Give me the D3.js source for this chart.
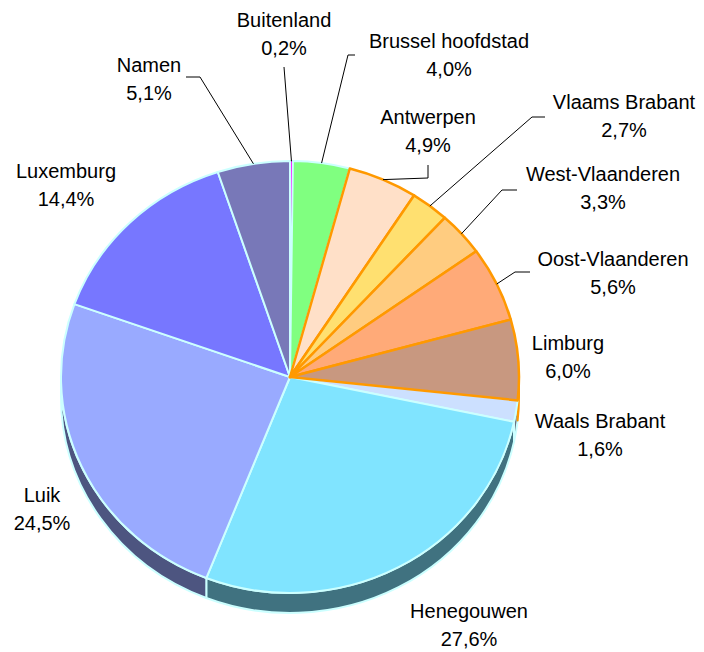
<!DOCTYPE html>
<html>
<head>
<meta charset="utf-8">
<script src="https://cdn.jsdelivr.net/npm/d3@7"></script>
<style>
  body { margin: 0; background: #fff; }
  text { font-family: Arial, "Liberation Sans", sans-serif; font-size: 20px; fill: #000; }
</style>
</head>
<body>
<div id="chart"></div>
<script>
// Data (clockwise from 12 o'clock)
var regions = ["Buitenland", "Brussel hoofdstad", "Antwerpen", "Vlaams Brabant", "West-Vlaanderen",
    "Oost-Vlaanderen", "Limburg", "Waals Brabant", "Henegouwen", "Luik", "Luxemburg", "Namen"];
var shares = [0.2, 4.0, 4.9, 2.7, 3.3, 5.6, 6.0, 1.6, 27.6, 24.5, 14.4, 5.1];
var fills = ["#ff00ff", "#80ff80", "#ffe0c8", "#ffe070", "#ffcc80", "#ffaa78",
    "#c89880", "#cce0ff", "#80e4ff", "#99aaff", "#7777ff", "#7878b8"];
var flemish = ["Antwerpen", "Vlaams Brabant", "West-Vlaanderen", "Oost-Vlaanderen", "Limburg"];

// Layout of the labels: centre x, baseline of first line, and leader elbow points
var labelPos = {
    "Buitenland": {x: 284, y: 27, leader: [[284, 67]]},
    "Brussel hoofdstad": {x: 449, y: 48, leader: [[348, 55], [355, 55]]},
    "Antwerpen": {x: 428, y: 124, leader: [[428, 178], [428, 165]]},
    "Vlaams Brabant": {x: 624, y: 109, leader: [[532, 117], [545, 117]]},
    "West-Vlaanderen": {x: 603, y: 181, leader: [[502, 190], [517, 190]]},
    "Oost-Vlaanderen": {x: 613, y: 266, leader: [[515, 272], [530, 272]]},
    "Limburg": {x: 568, y: 350},
    "Waals Brabant": {x: 600, y: 428},
    "Henegouwen": {x: 469, y: 618},
    "Luik": {x: 42, y: 502},
    "Luxemburg": {x: 66, y: 178},
    "Namen": {x: 149, y: 72, leader: [[200, 77], [186, 77]]}
};

var width = 704, height = 652;
var cx = 290, cy = 377, rx = 229, ry = 216, depth = 20;

var nl = d3.formatLocale({decimal: ",", thousands: ".", grouping: [3], currency: ["", "€"]});
var fmt = nl.format(".1f");

var svg = d3.select("#chart").append("svg")
    .attr("width", width)
    .attr("height", height);

var pie = d3.pie().sort(null).value(function (d) { return d.value; });
var data = regions.map(function (r, i) {
    return {name: r, value: shares[i], fill: fills[i], flemish: flemish.indexOf(r) >= 0};
});
var arcs = pie(data);

// point on the ellipse for an angle measured clockwise from the top
function pt(a, dy) {
    return [cx + rx * Math.sin(a), cy - ry * Math.cos(a) + (dy || 0)];
}

function topPath(d) {
    var p0 = pt(d.startAngle), p1 = pt(d.endAngle);
    var large = (d.endAngle - d.startAngle) > Math.PI ? 1 : 0;
    return "M" + cx + "," + cy + "L" + p0 + "A" + rx + "," + ry + " 0 " + large + " 1 " + p1 + "Z";
}

function sidePath(d) {
    var a0 = Math.max(d.startAngle, Math.PI / 2), a1 = Math.min(d.endAngle, 3 * Math.PI / 2);
    if (a1 <= a0) return null;
    var p0 = pt(a0), p1 = pt(a1), q0 = pt(a0, depth), q1 = pt(a1, depth);
    return "M" + p0 + "A" + rx + "," + ry + " 0 0 1 " + p1 + "L" + q1 +
        "A" + rx + "," + ry + " 0 0 0 " + q0 + "Z";
}

function strokeOf(d) {
    if (d.data.name === "Buitenland") return "#222";
    return d.data.flemish ? "#ff9900" : "#ccffff";
}

// draw the non-Flemish slices first so the orange outlines sit on top
var ordered = arcs.filter(function (d) { return !d.data.flemish; })
    .concat(arcs.filter(function (d) { return d.data.flemish; }));

// side walls
svg.append("g").selectAll("path")
    .data(ordered.filter(function (d) { return sidePath(d); }))
    .enter().append("path")
    .attr("d", sidePath)
    .attr("fill", function (d) {
        var c = d3.rgb(d.data.fill);
        return d3.rgb(c.r * 0.5, c.g * 0.5, c.b * 0.5);
    })
    .attr("stroke", strokeOf)
    .attr("stroke-width", 2)
    .attr("stroke-linejoin", "round");

// top faces
svg.append("g").selectAll("path")
    .data(ordered)
    .enter().append("path")
    .attr("d", topPath)
    .attr("fill", function (d) { return d.data.fill; })
    .attr("stroke", strokeOf)
    .attr("stroke-width", function (d) {
        if (d.data.name === "Buitenland") return 0.8;
        return d.data.flemish ? 2.5 : 2;
    })
    .attr("stroke-linejoin", "round");

// leader lines from the rim at the slice's middle angle
var line = d3.line();
svg.append("g").selectAll("path")
    .data(arcs.filter(function (d) { return labelPos[d.data.name].leader; }))
    .enter().append("path")
    .attr("d", function (d) {
        var mid = (d.startAngle + d.endAngle) / 2;
        return line([pt(mid)].concat(labelPos[d.data.name].leader));
    })
    .attr("fill", "none")
    .attr("stroke", "#000")
    .attr("stroke-width", 1);

// labels
var labels = svg.append("g").selectAll("text")
    .data(arcs)
    .enter().append("text")
    .attr("text-anchor", "middle")
    .attr("x", function (d) { return labelPos[d.data.name].x; })
    .attr("y", function (d) { return labelPos[d.data.name].y; });
labels.append("tspan")
    .attr("x", function (d) { return labelPos[d.data.name].x; })
    .text(function (d) { return d.data.name; });
labels.append("tspan")
    .attr("x", function (d) { return labelPos[d.data.name].x; })
    .attr("dy", 28)
    .text(function (d) { return fmt(d.data.value) + "%"; });
</script>
</body>
</html>
